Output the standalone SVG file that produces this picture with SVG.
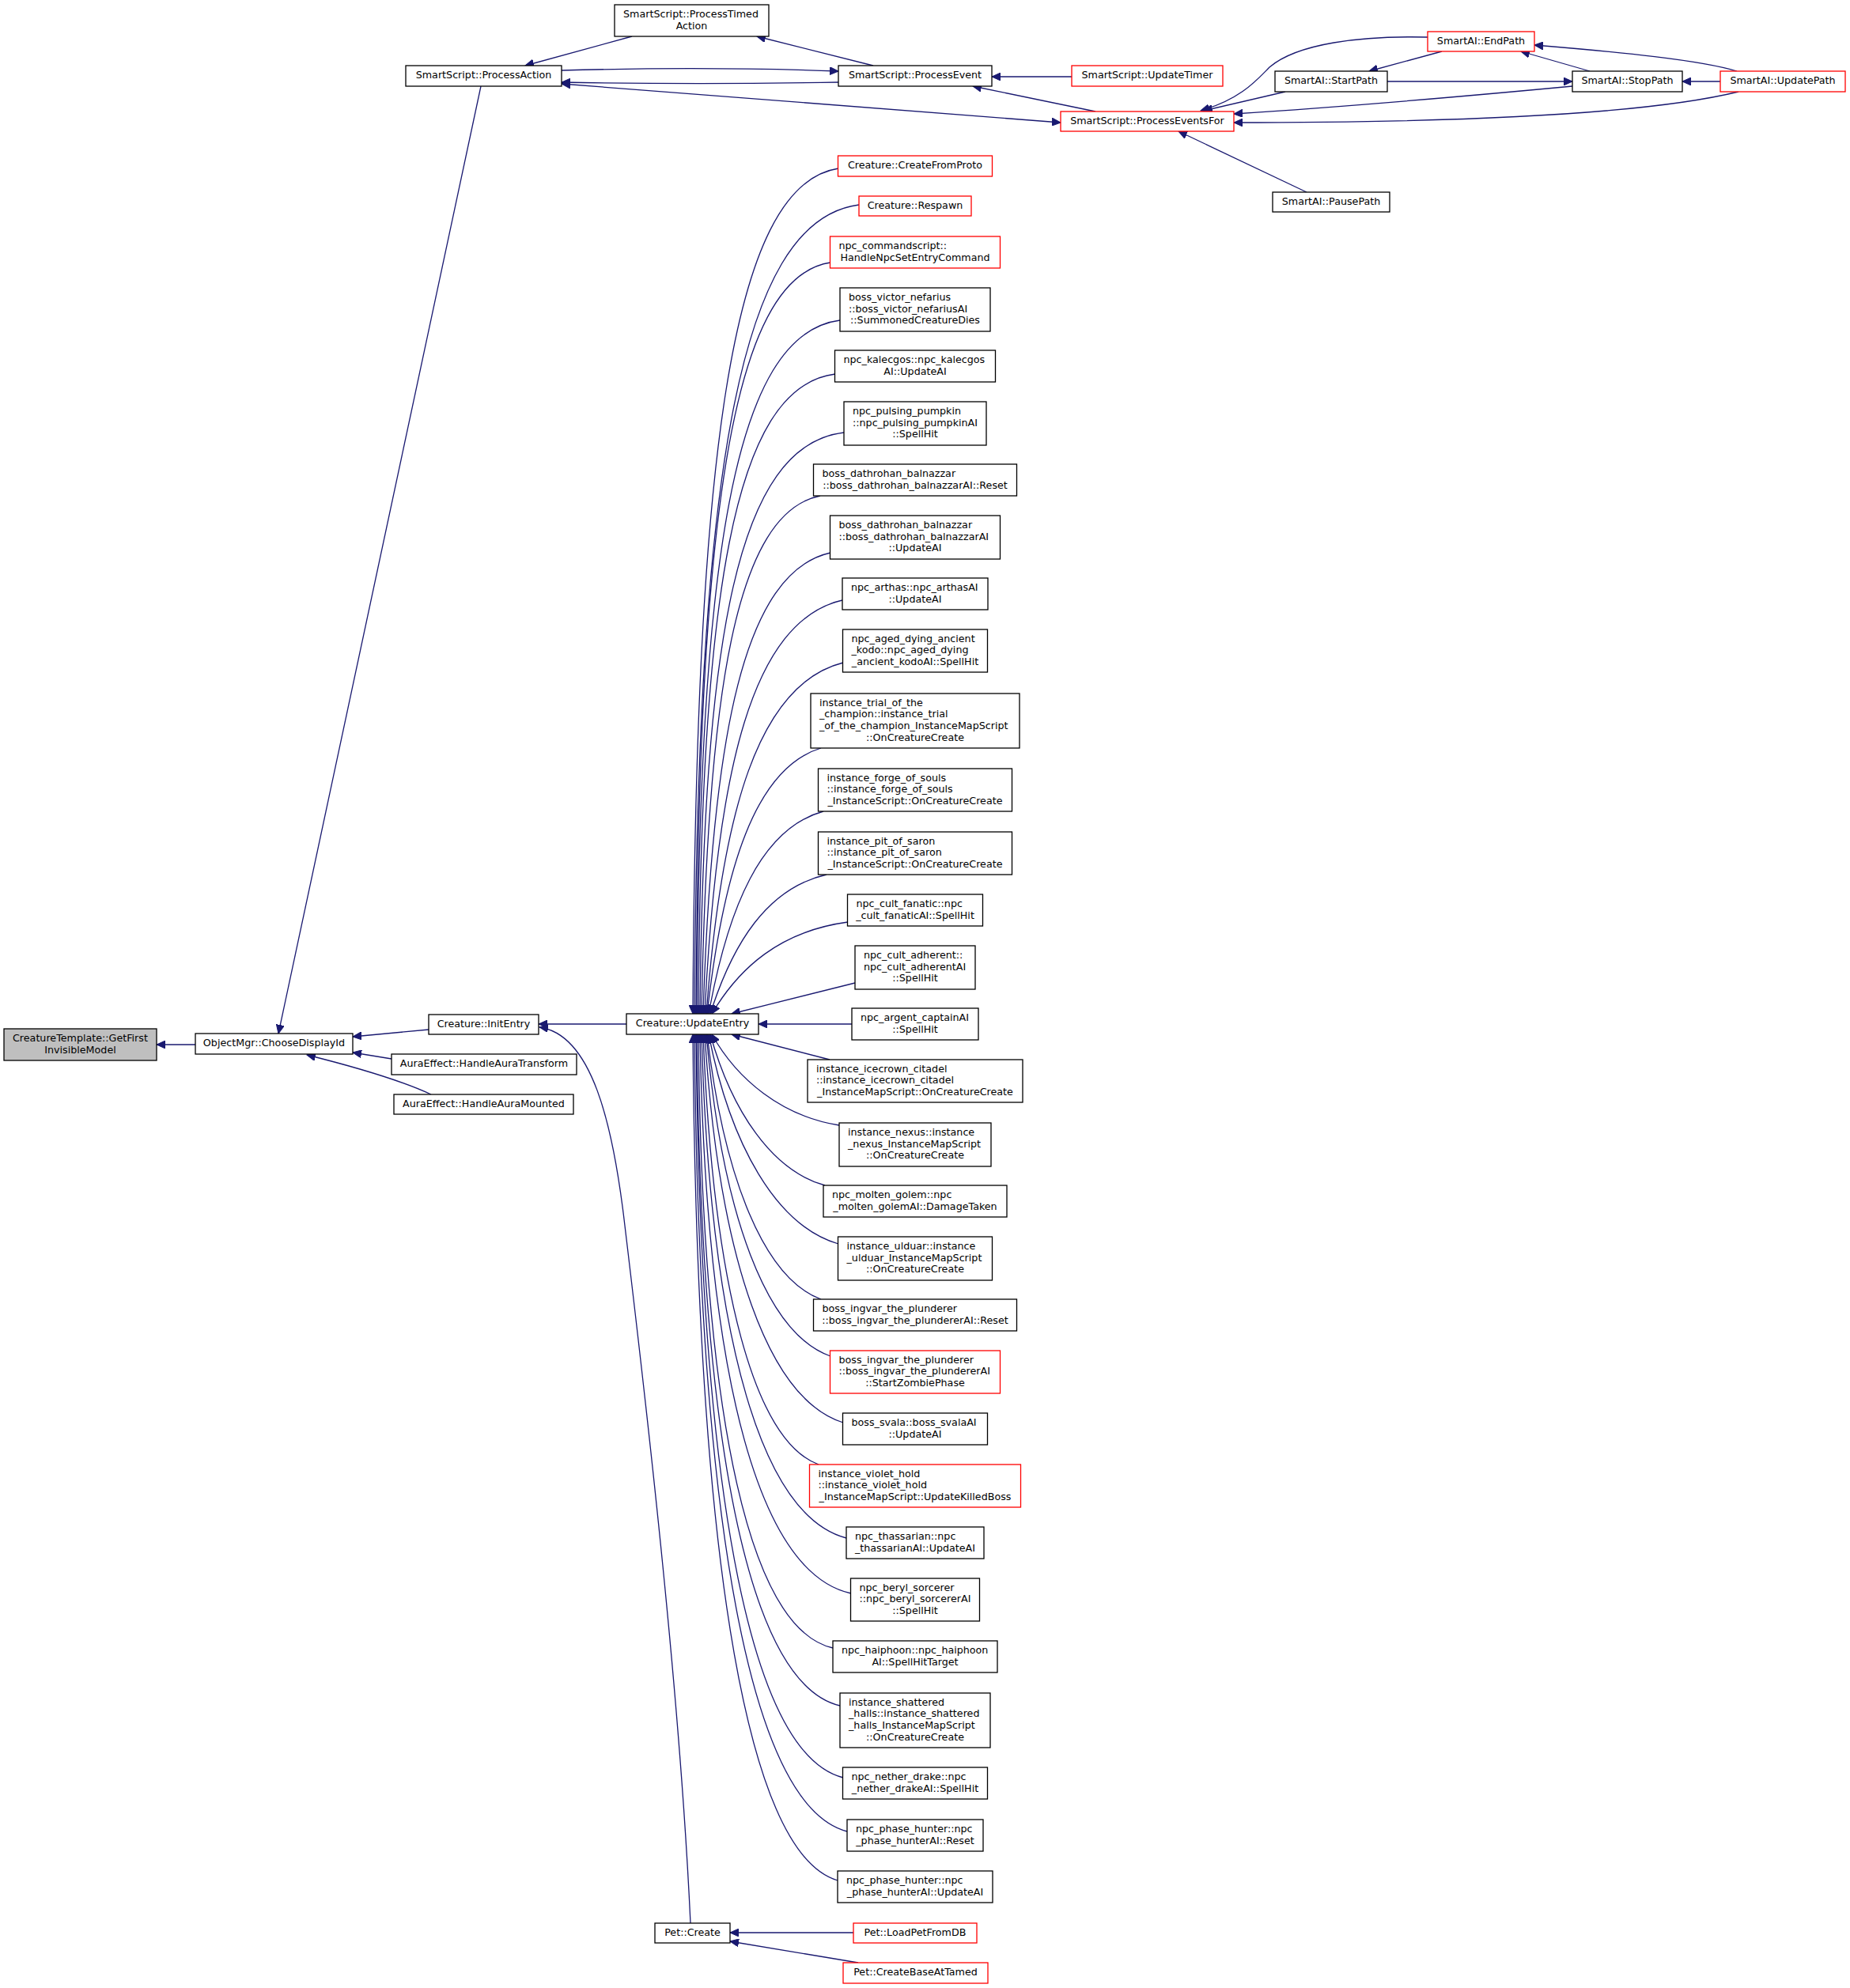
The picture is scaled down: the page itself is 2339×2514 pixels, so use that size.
<svg xmlns="http://www.w3.org/2000/svg" width="2339" height="2514" viewBox="0 0 2339 2514">
<style>
.n rect{fill:#fff;stroke:#000;stroke-width:1.3}
.r rect{stroke:#ff0000}
.root rect{fill:#bfbfbf}
text{font-family:"DejaVu Sans","Liberation Sans",sans-serif;font-size:12.7px;fill:#000}
.m{text-anchor:middle}
.e path{fill:none;stroke:#191970;stroke-width:1.3;marker-end:url(#ah)}
.e path.b{marker-start:url(#ah)}
</style>
<defs>
<marker id="ah" markerUnits="userSpaceOnUse" markerWidth="12" markerHeight="10" refX="11" refY="5" orient="auto-start-reverse" viewBox="0 0 12 10">
<path d="M0,0 L11,5 L0,10 z" fill="#191970" stroke="#191970" stroke-width="1"/>
</marker>
</defs>
<rect width="2339" height="2514" fill="#fff"/>
<g id="connectors" class="e">
<path d="M247,1321 L198,1321"/>
<path d="M542,1302 L446,1311"/>
<path d="M495,1339 L446,1331"/>
<path d="M545,1384 C515,1370 460,1352 388,1334"/>
<path d="M608,109 L352,1307"/>
<path d="M792,1295 L681,1295"/>
<path d="M873,2432 C860,2150 820,1800 790,1550 C775,1420 748,1308 682,1299"/>
<path d="M1104,83 L957,46"/>
<path d="M799,46 L664,83"/>
<path d="M710,89 C820,86 950,86 1060,90"/>
<path d="M1060,104 C950,106 820,106 710,104"/>
<path d="M1355,97 L1254,97"/>
<path d="M1385,141 L1230,109"/>
<path class="b" d="M710,106 L1341,155"/>
<path d="M1805,47 C1720,45 1640,55 1605,85 C1590,100 1570,125 1518,140"/>
<path d="M1625,116 L1522,140"/>
<path d="M1988,109 C1850,122 1700,135 1560,144"/>
<path d="M2198,116 C2100,140 1900,155 1560,155"/>
<path d="M1652,243 L1490,166"/>
<path d="M1823,65 L1731,90"/>
<path d="M2010,90 L1923,65"/>
<path d="M2196,90 C2150,76 2050,66 1940,57"/>
<path d="M1754,103 L1988,103"/>
<path d="M2175,103 L2127,103"/>
<path d="M1079,2444 L923,2444"/>
<path d="M1085,2482 L923,2455"/>
<path d="M1060,213 C922,234 880,587 876,1282"/>
<path d="M1086,259 C930,279 882,617 878,1282"/>
<path d="M1050,332 C922.5,351 883,664.5 880,1282"/>
<path d="M1062,405 C926,422.5 884.6,712 881,1282"/>
<path d="M1056,473 C926,489 886.5,756 883,1282"/>
<path d="M1067,547 C931.6,563 889.5,807 885,1282"/>
<path d="M1037,627 C930.4,648.6 894.3,872 887,1282"/>
<path d="M1050,699 C940.5,723.6 900.3,927.5 889,1282"/>
<path d="M1065,759 C951,785.3 906.3,971.7 891,1282"/>
<path d="M1066,838 C958.3,865 912.3,1027.4 893,1282"/>
<path d="M1038,946 C954.8,971.3 914.8,1098.4 894,1282"/>
<path d="M1041,1026 C962,1048 920.4,1147.2 896,1282"/>
<path d="M1045,1106 C970,1123 926.3,1193 898,1282"/>
<path d="M1072,1166 C986,1177.6 934.4,1224 900,1282"/>
<path d="M1081,1243 L925,1282"/>
<path d="M1077,1295 L959,1295"/>
<path d="M1049,1340 L925,1308"/>
<path d="M1061,1423 C988.5,1411.5 932.2,1365.5 900,1308"/>
<path d="M1043,1499 C976.3,1480.8 925.3,1405.5 898,1308"/>
<path d="M1060,1573 C981.5,1550 923.5,1448 896,1308"/>
<path d="M1038,1643 C966.5,1616.7 915.3,1491 894,1308"/>
<path d="M1050,1715 C969.3,1686.5 913,1537.6 893,1308"/>
<path d="M1066,1799 C972.3,1769.4 909.1,1595.4 891,1308"/>
<path d="M1035,1852 C954.9,1822.6 901.9,1633.6 889,1308"/>
<path d="M1070,1945 C965.4,1917.5 898.3,1704 887,1308"/>
<path d="M1076,2015 C963.5,1990.3 893.1,1759.8 885,1308"/>
<path d="M1053,2084 C951,2060.7 888.1,1812.4 883,1308"/>
<path d="M1062,2157 C953.4,2131.5 886.4,1860 881,1308"/>
<path d="M1066,2248 C954.4,2219.8 885.6,1919 880,1308"/>
<path d="M1071,2316 C955.2,2285.8 883.8,1963.2 878,1308"/>
<path d="M1059,2378 C949.2,2345.9 881.5,2003.5 876,1308"/>
</g>
<g id="n_ct" class="n root"><rect x="5" y="1301" width="193" height="40"/><text x="16" y="1316.9">CreatureTemplate::GetFirst</text><text class="m" x="101.5" y="1331.6">InvisibleModel</text></g>
<g id="n_om" class="n"><rect x="247" y="1307" width="199" height="26"/><text class="m" x="346.5" y="1323.25">ObjectMgr::ChooseDisplayId</text></g>
<g id="n_ie" class="n"><rect x="542" y="1283" width="139" height="25"/><text class="m" x="611.5" y="1298.75">Creature::InitEntry</text></g>
<g id="n_hat" class="n"><rect x="495" y="1333" width="234" height="26"/><text class="m" x="612" y="1349.25">AuraEffect::HandleAuraTransform</text></g>
<g id="n_ham" class="n"><rect x="498" y="1384" width="227" height="25"/><text class="m" x="611.5" y="1399.75">AuraEffect::HandleAuraMounted</text></g>
<g id="n_pa" class="n"><rect x="513" y="83" width="197" height="26"/><text class="m" x="611.5" y="99.25">SmartScript::ProcessAction</text></g>
<g id="n_pta" class="n"><rect x="777" y="6" width="195" height="40"/><text x="788" y="21.9">SmartScript::ProcessTimed</text><text class="m" x="874.5" y="36.6">Action</text></g>
<g id="n_pe" class="n"><rect x="1060" y="83" width="194" height="26"/><text class="m" x="1157" y="99.25">SmartScript::ProcessEvent</text></g>
<g id="n_ut" class="n r"><rect x="1355" y="83" width="191" height="26"/><text class="m" x="1450.5" y="99.25">SmartScript::UpdateTimer</text></g>
<g id="n_pef" class="n r"><rect x="1341" y="141" width="219" height="25"/><text class="m" x="1450.5" y="156.75">SmartScript::ProcessEventsFor</text></g>
<g id="n_ep" class="n r"><rect x="1805" y="40" width="135" height="25"/><text class="m" x="1872.5" y="55.75">SmartAI::EndPath</text></g>
<g id="n_stp" class="n"><rect x="1612" y="90" width="142" height="26"/><text class="m" x="1683" y="106.25">SmartAI::StartPath</text></g>
<g id="n_sp" class="n"><rect x="1988" y="90" width="139" height="26"/><text class="m" x="2057.5" y="106.25">SmartAI::StopPath</text></g>
<g id="n_up" class="n r"><rect x="2175" y="90" width="158" height="26"/><text class="m" x="2254" y="106.25">SmartAI::UpdatePath</text></g>
<g id="n_pp" class="n"><rect x="1609" y="243" width="148" height="25"/><text class="m" x="1683" y="258.75">SmartAI::PausePath</text></g>
<g id="n_ue" class="n"><rect x="792" y="1282" width="167" height="26"/><text class="m" x="875.5" y="1298.25">Creature::UpdateEntry</text></g>
<g id="n1" class="n r"><rect x="1059.5" y="197" width="195" height="26"/><text class="m" x="1157" y="213.25">Creature::CreateFromProto</text></g>
<g id="n2" class="n r"><rect x="1086" y="248" width="142" height="25"/><text class="m" x="1157" y="263.75">Creature::Respawn</text></g>
<g id="n3" class="n r"><rect x="1049.5" y="299" width="215" height="40"/><text x="1060.5" y="314.9">npc_commandscript::</text><text class="m" x="1157" y="329.6">HandleNpcSetEntryCommand</text></g>
<g id="n4" class="n"><rect x="1062" y="364" width="190" height="55"/><text x="1073" y="380.05">boss_victor_nefarius</text><text x="1073" y="394.75">::boss_victor_nefariusAI</text><text class="m" x="1157" y="409.45">::SummonedCreatureDies</text></g>
<g id="n5" class="n"><rect x="1055.5" y="443" width="203" height="40"/><text x="1066.5" y="458.9">npc_kalecgos::npc_kalecgos</text><text class="m" x="1157" y="473.6">AI::UpdateAI</text></g>
<g id="n6" class="n"><rect x="1067" y="508" width="180" height="55"/><text x="1078" y="524.05">npc_pulsing_pumpkin</text><text x="1078" y="538.75">::npc_pulsing_pumpkinAI</text><text class="m" x="1157" y="553.45">::SpellHit</text></g>
<g id="n7" class="n"><rect x="1028.5" y="587" width="257" height="40"/><text x="1039.5" y="602.9">boss_dathrohan_balnazzar</text><text class="m" x="1157" y="617.6">::boss_dathrohan_balnazzarAI::Reset</text></g>
<g id="n8" class="n"><rect x="1049.5" y="652" width="215" height="55"/><text x="1060.5" y="668.05">boss_dathrohan_balnazzar</text><text x="1060.5" y="682.75">::boss_dathrohan_balnazzarAI</text><text class="m" x="1157" y="697.45">::UpdateAI</text></g>
<g id="n9" class="n"><rect x="1065" y="731" width="184" height="40"/><text x="1076" y="746.9">npc_arthas::npc_arthasAI</text><text class="m" x="1157" y="761.6">::UpdateAI</text></g>
<g id="n10" class="n"><rect x="1065.5" y="796" width="183" height="54"/><text x="1076.5" y="811.55">npc_aged_dying_ancient</text><text x="1076.5" y="826.25">_kodo::npc_aged_dying</text><text class="m" x="1157" y="840.95">_ancient_kodoAI::SpellHit</text></g>
<g id="n11" class="n"><rect x="1025" y="877" width="264" height="69"/><text x="1036" y="892.7">instance_trial_of_the</text><text x="1036" y="907.4">_champion::instance_trial</text><text x="1036" y="922.1">_of_the_champion_InstanceMapScript</text><text class="m" x="1157" y="936.8">::OnCreatureCreate</text></g>
<g id="n12" class="n"><rect x="1034.5" y="972" width="245" height="54"/><text x="1045.5" y="987.55">instance_forge_of_souls</text><text x="1045.5" y="1002.25">::instance_forge_of_souls</text><text class="m" x="1157" y="1016.95">_InstanceScript::OnCreatureCreate</text></g>
<g id="n13" class="n"><rect x="1034.5" y="1052" width="245" height="54"/><text x="1045.5" y="1067.55">instance_pit_of_saron</text><text x="1045.5" y="1082.25">::instance_pit_of_saron</text><text class="m" x="1157" y="1096.95">_InstanceScript::OnCreatureCreate</text></g>
<g id="n14" class="n"><rect x="1071.5" y="1131" width="171" height="40"/><text x="1082.5" y="1146.9">npc_cult_fanatic::npc</text><text class="m" x="1157" y="1161.6">_cult_fanaticAI::SpellHit</text></g>
<g id="n15" class="n"><rect x="1081" y="1196" width="152" height="55"/><text x="1092" y="1212.05">npc_cult_adherent::</text><text x="1092" y="1226.75">npc_cult_adherentAI</text><text class="m" x="1157" y="1241.45">::SpellHit</text></g>
<g id="n16" class="n"><rect x="1077" y="1275" width="160" height="40"/><text x="1088" y="1290.9">npc_argent_captainAI</text><text class="m" x="1157" y="1305.6">::SpellHit</text></g>
<g id="n17" class="n"><rect x="1021" y="1340" width="272" height="54"/><text x="1032" y="1355.55">instance_icecrown_citadel</text><text x="1032" y="1370.25">::instance_icecrown_citadel</text><text class="m" x="1157" y="1384.95">_InstanceMapScript::OnCreatureCreate</text></g>
<g id="n18" class="n"><rect x="1061" y="1420" width="192" height="55"/><text x="1072" y="1436.05">instance_nexus::instance</text><text x="1072" y="1450.75">_nexus_InstanceMapScript</text><text class="m" x="1157" y="1465.45">::OnCreatureCreate</text></g>
<g id="n19" class="n"><rect x="1041" y="1499" width="232" height="40"/><text x="1052" y="1514.9">npc_molten_golem::npc</text><text class="m" x="1157" y="1529.6">_molten_golemAI::DamageTaken</text></g>
<g id="n20" class="n"><rect x="1059.5" y="1564" width="195" height="55"/><text x="1070.5" y="1580.05">instance_ulduar::instance</text><text x="1070.5" y="1594.75">_ulduar_InstanceMapScript</text><text class="m" x="1157" y="1609.45">::OnCreatureCreate</text></g>
<g id="n21" class="n"><rect x="1028.5" y="1643" width="257" height="40"/><text x="1039.5" y="1658.9">boss_ingvar_the_plunderer</text><text class="m" x="1157" y="1673.6">::boss_ingvar_the_plundererAI::Reset</text></g>
<g id="n22" class="n r"><rect x="1049.5" y="1708" width="215" height="54"/><text x="1060.5" y="1723.55">boss_ingvar_the_plunderer</text><text x="1060.5" y="1738.25">::boss_ingvar_the_plundererAI</text><text class="m" x="1157" y="1752.95">::StartZombiePhase</text></g>
<g id="n23" class="n"><rect x="1065.5" y="1787" width="183" height="40"/><text x="1076.5" y="1802.9">boss_svala::boss_svalaAI</text><text class="m" x="1157" y="1817.6">::UpdateAI</text></g>
<g id="n24" class="n r"><rect x="1023.5" y="1852" width="267" height="54"/><text x="1034.5" y="1867.55">instance_violet_hold</text><text x="1034.5" y="1882.25">::instance_violet_hold</text><text class="m" x="1157" y="1896.95">_InstanceMapScript::UpdateKilledBoss</text></g>
<g id="n25" class="n"><rect x="1070" y="1931" width="174" height="40"/><text x="1081" y="1946.9">npc_thassarian::npc</text><text class="m" x="1157" y="1961.6">_thassarianAI::UpdateAI</text></g>
<g id="n26" class="n"><rect x="1075.5" y="1996" width="163" height="54"/><text x="1086.5" y="2011.55">npc_beryl_sorcerer</text><text x="1086.5" y="2026.25">::npc_beryl_sorcererAI</text><text class="m" x="1157" y="2040.95">::SpellHit</text></g>
<g id="n27" class="n"><rect x="1053" y="2075" width="208" height="40"/><text x="1064" y="2090.9">npc_haiphoon::npc_haiphoon</text><text class="m" x="1157" y="2105.6">AI::SpellHitTarget</text></g>
<g id="n28" class="n"><rect x="1062" y="2141" width="190" height="69"/><text x="1073" y="2156.7">instance_shattered</text><text x="1073" y="2171.4">_halls::instance_shattered</text><text x="1073" y="2186.1">_halls_InstanceMapScript</text><text class="m" x="1157" y="2200.8">::OnCreatureCreate</text></g>
<g id="n29" class="n"><rect x="1065.5" y="2235" width="183" height="40"/><text x="1076.5" y="2250.9">npc_nether_drake::npc</text><text class="m" x="1157" y="2265.6">_nether_drakeAI::SpellHit</text></g>
<g id="n30" class="n"><rect x="1071" y="2301" width="172" height="40"/><text x="1082" y="2316.9">npc_phase_hunter::npc</text><text class="m" x="1157" y="2331.6">_phase_hunterAI::Reset</text></g>
<g id="n31" class="n"><rect x="1059" y="2366" width="196" height="40"/><text x="1070" y="2381.9">npc_phase_hunter::npc</text><text class="m" x="1157" y="2396.6">_phase_hunterAI::UpdateAI</text></g>
<g id="n_pc" class="n"><rect x="828" y="2432" width="95" height="25"/><text class="m" x="875.5" y="2447.75">Pet::Create</text></g>
<g id="n_lp" class="n r"><rect x="1079" y="2432" width="156" height="25"/><text class="m" x="1157" y="2447.75">Pet::LoadPetFromDB</text></g>
<g id="n_cb" class="n r"><rect x="1066" y="2482" width="183" height="26"/><text class="m" x="1157.5" y="2498.25">Pet::CreateBaseAtTamed</text></g>
</svg>
